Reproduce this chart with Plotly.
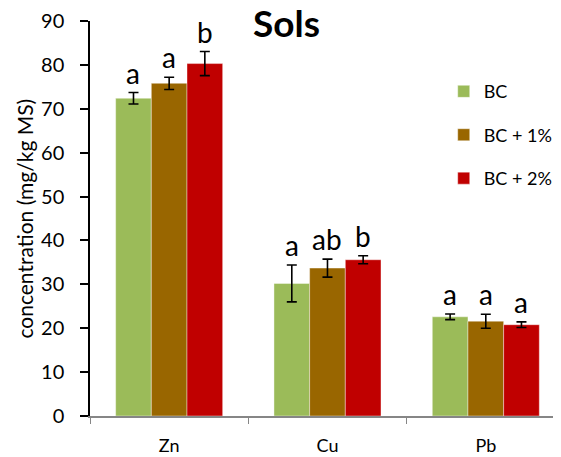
import plotly.graph_objects as go

categories = ["Zn", "Cu", "Pb"]
series_names = ["BC", "BC + 1%", "BC + 2%"]
bc = [72.4, 30.2, 22.6]
bc1 = [75.8, 33.7, 21.6]
bc2 = [80.3, 35.6, 20.8]
err_bc = [1.3, 4.2, 0.65]
err_bc1 = [1.4, 2.05, 1.6]
err_bc2 = [2.75, 0.9, 0.65]
letters_bc = ["a", "a", "a"]
letters_bc1 = ["a", "ab", "a"]
letters_bc2 = ["b", "b", "a"]
colors = ["#9BBB59", "#996600", "#C00000"]

FONT = "Lato, 'Open Sans', sans-serif"

values = [bc, bc1, bc2]
errors = [err_bc, err_bc1, err_bc2]
letters = [letters_bc, letters_bc1, letters_bc2]

fig = go.Figure()
for i, name in enumerate(series_names):
    fig.add_trace(go.Bar(
        x=categories, y=values[i], name=name,
        marker=dict(color=colors[i], line=dict(color="rgba(255,255,255,0.4)", width=1)),
        error_y=dict(type="data", array=errors[i], visible=True,
                     color="black", thickness=1.6, width=5),
        legendgroup=name,
    ))

# letter annotations above the error bars
n = len(series_names)
bargap = 0.324
bar_w = (1 - bargap) / n
for i in range(n):
    for j, cat in enumerate(categories):
        xoff = (i - (n - 1) / 2) * bar_w
        fig.add_annotation(
            x=j + xoff, y=values[i][j] + errors[i][j],
            xref="x", yref="y", text=letters[i][j], showarrow=False,
            yanchor="bottom", yshift=1,
            font=dict(family=FONT, size=28, color="black"),
        )

fig.add_annotation(
    x=0.418, xref="paper", y=0.995, yref="paper", yanchor="middle",
    text="<b>Sols</b>", showarrow=False,
    font=dict(family=FONT, size=37, color="black"),
)

fig.add_annotation(
    x=-0.140, xref="paper", y=0.5, yref="paper", xanchor="center", yanchor="middle",
    text="concentration (mg/kg MS)", textangle=-90, showarrow=False,
    font=dict(family=FONT, size=21, color="black"),
)

fig.update_layout(
    width=553, height=449,
    margin=dict(l=82, r=0, t=9, b=41),
    paper_bgcolor="white", plot_bgcolor="white",
    barmode="group", bargap=bargap, bargroupgap=0,
    font=dict(family=FONT, size=16, color="black"),
    showlegend=True,
    legend=dict(x=0.751, y=0.868, xanchor="left", yanchor="top",
                font=dict(family=FONT, size=18, color="black"),
                tracegroupgap=17, traceorder="grouped",
                bgcolor="rgba(0,0,0,0)"),
    xaxis=dict(
        type="category", range=[-0.5, 2.475],
        showline=True, linecolor="#868686", linewidth=1.5,
        ticks="outside", tickson="boundaries", ticklen=6, tickcolor="#868686",
        tickfont=dict(family=FONT, size=18, color="black"),
        ticklabelstandoff=13,
        showgrid=False, zeroline=False,
    ),
    yaxis=dict(
        range=[0, 90], dtick=10,
        showline=True, linecolor="black", linewidth=1.5,
        ticks="outside", ticklen=8, tickcolor="black", tickwidth=1.5,
        tickfont=dict(family=FONT, size=20, color="black"),
        ticklabelstandoff=12, ticklabeloverflow="allow",
        showgrid=False, zeroline=False,
    ),
)

fig.write_html("out.html")
